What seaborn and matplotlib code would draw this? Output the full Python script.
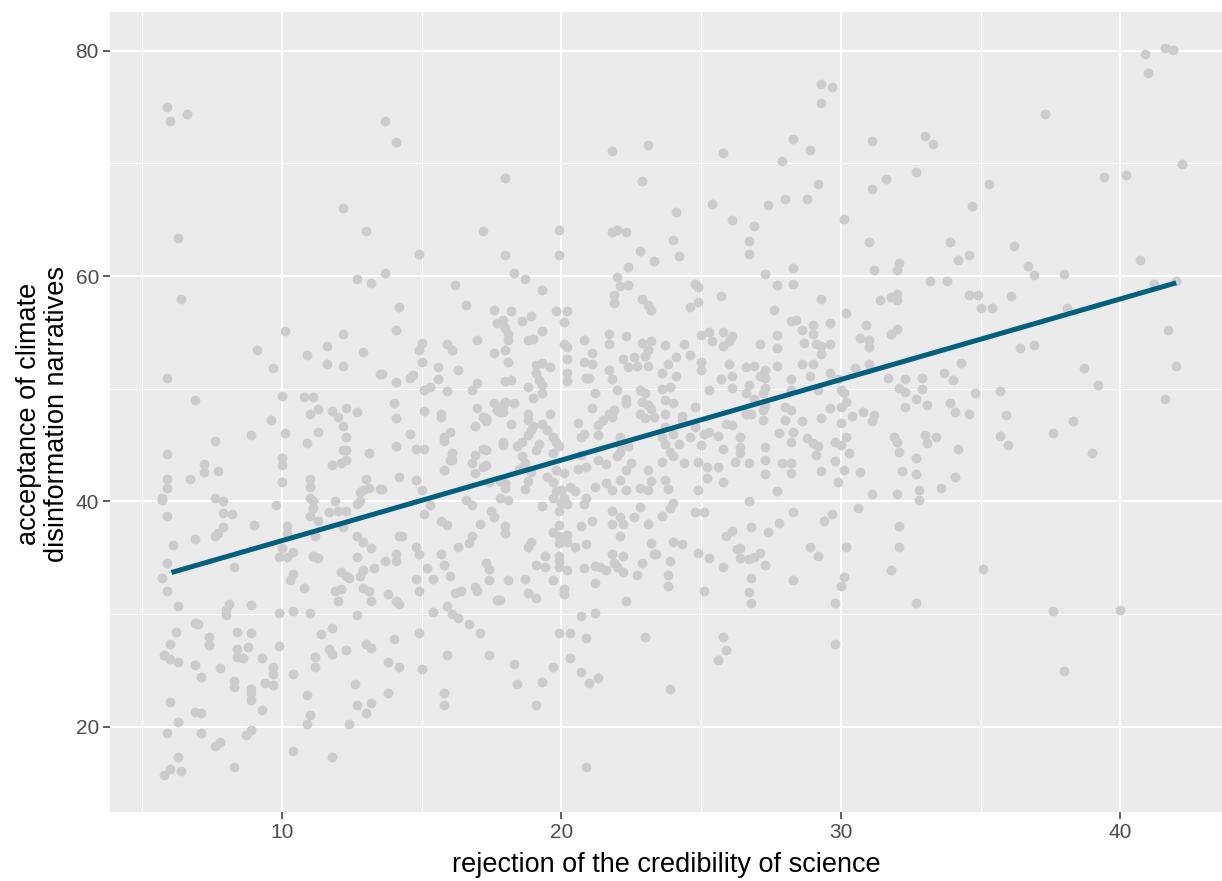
import matplotlib
matplotlib.use("Agg")
import matplotlib.pyplot as plt
from matplotlib.ticker import MultipleLocator
import pandas as pd
import seaborn as sns

# points, (rejection, acceptance)
top_points = [
    (5.9, 75.0), (6.0, 73.8), (6.6, 74.4), (6.3, 63.4), (12.2, 66.0), (13.0, 64.0), (13.7, 73.8), (14.1, 71.9),
    (18.0, 68.7), (17.2, 64.0), (14.9, 62.0), (18.0, 61.9), (19.9, 64.1), (19.9, 61.9), (21.8, 71.1), (23.1, 71.6),
    (22.9, 68.4), (21.8, 63.9), (22.0, 64.1), (22.3, 63.9), (22.8, 62.2), (23.3, 61.3), (22.4, 60.8), (18.3, 60.3),
    (13.7, 60.3), (29.3, 77.0), (29.7, 76.8), (29.3, 75.4), (28.3, 72.2), (28.9, 71.2), (25.8, 70.9), (27.9, 70.2),
    (31.1, 72.0), (33.0, 72.4), (33.3, 71.7), (32.7, 69.2), (31.6, 68.6), (31.1, 67.7), (29.2, 68.2), (28.0, 66.8),
    (28.8, 66.8), (27.4, 66.3), (25.4, 66.4), (24.1, 65.7), (26.1, 65.0), (26.9, 64.4), (30.1, 65.1), (24.0, 63.2),
    (24.2, 61.8), (26.7, 63.1), (26.7, 62.0), (31.0, 63.0), (28.3, 60.7), (32.1, 61.2), (31.2, 60.5), (32.0, 60.5),
    (27.3, 60.2), (40.9, 79.7), (41.6, 80.2), (41.9, 80.1), (41.0, 78.0), (37.3, 74.4), (42.2, 69.9), (40.2, 69.0),
    (39.4, 68.8), (35.3, 68.2), (34.7, 66.2), (33.9, 63.0), (36.2, 62.7), (34.6, 61.9), (34.2, 61.4), (36.7, 60.9),
    (40.7, 61.4), (38.0, 60.2), (36.9, 60.1),
]

band_left = [
    (12.7, 59.7), (13.2, 59.4), (6.4, 58.0), (10.1, 55.1), (12.2, 54.9), (9.1, 53.4), (10.9, 53.0), (11.6, 53.8),
    (12.9, 53.3), (11.6, 52.2), (12.2, 52.0), (9.7, 51.8), (13.5, 51.3), (5.9, 51.0), (10.0, 49.4), (6.9, 49.0),
    (10.8, 49.3), (11.1, 49.3), (11.3, 48.2), (11.0, 47.8), (11.8, 48.0), (12.3, 48.3), (12.0, 47.5), (12.7, 47.9),
    (12.2, 46.7), (9.6, 47.2), (10.1, 46.1), (8.9, 45.9), (11.3, 46.2), (12.3, 45.7), (10.9, 45.2), (7.6, 45.4),
    (5.9, 44.2), (10.0, 43.9), (10.0, 43.2), (12.2, 44.6), (12.3, 44.6), (13.1, 44.3), (12.3, 43.7), (11.8, 43.2),
    (12.1, 43.4), (7.2, 43.3), (7.2, 42.6), (7.7, 42.7), (6.7, 42.0), (5.9, 42.0), (5.9, 41.2), (10.0, 41.7),
    (11.0, 42.0), (11.0, 41.3), (13.0, 42.0), (13.1, 41.2), (13.5, 41.1), (12.8, 40.8), (12.9, 41.0), (11.0, 40.3),
    (11.1, 40.0), (11.9, 40.0), (12.7, 39.8), (12.8, 40.0), (5.7, 40.1), (5.7, 40.3), (7.6, 40.3), (7.9, 40.0),
    (9.8, 39.7), (11.1, 39.4), (11.7, 39.1), (12.0, 39.2), (12.3, 39.2), (7.9, 39.0), (8.2, 38.9), (5.9, 38.7),
    (11.0, 38.7), (11.3, 38.3), (12.2, 37.7), (9.0, 37.9), (7.9, 37.7), (7.7, 37.2), (7.6, 36.9), (10.2, 37.8),
    (10.2, 37.2), (11.2, 36.9), (6.9, 36.7), (12.7, 36.9), (12.9, 36.4), (6.1, 36.1), (10.0, 35.9),
]

band_mid_left = [
    (18.7, 59.7), (16.2, 59.2), (19.3, 58.8), (22.0, 59.9), (22.1, 59.1), (22.4, 59.2), (21.9, 58.3), (21.9, 57.6),
    (22.9, 58.0), (23.1, 57.4), (23.2, 57.0), (14.2, 57.3), (16.6, 57.4), (17.6, 57.0), (18.2, 56.9), (18.9, 56.5),
    (18.6, 56.0), (19.8, 56.9), (20.2, 56.9), (20.1, 55.9), (17.7, 55.8), (17.9, 56.1), (18.0, 55.4), (18.1, 54.9),
    (18.1, 54.3), (18.0, 53.4), (19.3, 55.1), (14.1, 55.2), (17.0, 54.3), (17.6, 53.2), (18.1, 52.4), (18.8, 54.3),
    (19.0, 54.4), (15.0, 54.1), (14.9, 53.4), (15.9, 54.0), (16.1, 53.4), (15.0, 52.4), (21.7, 54.9), (21.7, 54.0),
    (22.3, 54.7), (20.8, 54.3), (20.1, 54.0), (20.2, 53.7), (21.1, 53.2), (20.2, 52.6), (20.8, 52.4), (21.1, 52.2),
    (22.9, 54.1), (23.2, 54.2), (23.1, 53.4), (23.0, 52.9), (22.6, 52.8), (22.2, 52.6), (22.4, 51.9), (22.7, 52.0),
    (23.1, 52.0), (15.6, 51.9), (16.3, 51.7), (14.6, 51.0), (14.7, 51.2), (14.1, 50.6), (13.6, 51.3), (15.6, 50.9),
    (19.1, 52.1), (19.3, 52.3), (19.6, 51.9), (19.1, 51.4), (19.2, 50.8), (18.0, 50.7), (18.2, 50.8), (20.2, 51.4),
    (20.2, 50.7), (20.9, 51.0), (21.0, 51.0), (21.7, 51.7), (21.8, 50.9), (15.1, 49.9), (15.3, 50.2), (15.9, 49.8),
    (16.8, 49.9), (17.0, 50.5), (18.8, 50.2), (19.0, 49.2), (19.3, 49.6), (19.3, 50.3), (21.2, 49.6), (22.0, 49.9),
    (22.3, 49.1), (22.3, 48.7), (22.8, 49.9), (23.0, 49.6), (14.0, 48.7), (15.1, 48.0), (14.1, 47.4), (15.7, 47.8),
    (15.7, 47.5), (17.0, 48.3), (17.2, 47.5), (17.3, 47.1), (17.6, 48.7), (17.7, 48.1), (17.9, 48.5), (18.0, 48.8),
    (18.3, 48.7), (17.9, 47.9), (17.8, 47.9), (17.3, 47.4), (16.9, 46.7), (18.2, 46.9), (18.8, 47.8), (18.8, 47.2),
    (19.0, 46.7), (19.3, 46.9), (19.6, 47.8), (21.1, 48.3), (20.6, 47.0), (20.8, 46.0), (20.7, 45.7), (21.3, 46.8),
    (21.5, 47.2), (21.7, 47.8), (21.9, 48.1), (21.8, 47.5), (22.9, 48.8), (23.1, 48.6), (23.2, 48.2), (22.8, 47.8),
    (23.0, 47.4), (23.3, 47.5), (14.6, 46.0), (16.0, 46.2), (15.8, 45.7), (15.8, 45.4), (14.1, 44.9), (14.8, 44.7),
    (15.1, 44.7), (17.2, 44.7), (17.3, 44.6), (16.9, 44.1), (17.9, 45.3), (17.9, 45.0), (18.4, 44.9), (18.6, 45.3),
    (18.8, 45.9), (18.9, 46.3), (19.2, 45.1), (19.1, 44.6), (19.5, 46.3), (19.7, 45.7), (19.8, 45.3), (19.9, 44.9),
    (19.7, 44.3), (21.3, 45.9), (22.1, 45.7), (22.1, 45.1), (22.4, 44.9), (22.1, 44.4), (16.1, 44.3), (16.1, 43.7),
    (16.0, 43.7), (15.8, 42.8), (16.9, 42.5), (17.2, 43.1), (17.3, 43.2), (16.8, 43.4), (14.2, 42.2), (14.8, 41.9),
    (15.0, 41.0), (13.6, 41.1), (18.6, 44.0), (18.7, 43.4), (18.5, 42.9), (18.9, 42.6), (18.8, 41.8), (18.0, 41.6),
    (18.0, 41.2), (17.8, 41.8), (17.4, 41.7), (18.7, 41.1), (19.5, 42.2), (19.7, 41.7), (19.8, 42.8), (20.1, 42.5),
    (20.6, 42.9), (20.9, 43.1), (20.7, 44.1), (21.3, 43.7), (21.6, 43.3), (22.0, 44.0), (22.3, 42.8), (22.5, 43.4),
    (23.1, 42.8), (23.2, 41.8), (21.2, 41.3), (21.6, 41.6), (21.8, 41.0), (22.1, 41.9), (22.3, 41.0), (22.8, 41.2),
    (23.1, 41.0), (20.3, 41.3), (20.5, 40.9), (19.8, 40.9), (20.0, 41.0), (19.7, 40.3), (20.1, 40.3), (20.2, 39.8),
    (20.0, 39.9), (20.9, 40.3), (20.8, 39.8), (19.3, 39.6), (19.9, 39.2), (17.8, 40.3), (18.1, 40.1), (16.6, 40.1),
    (16.8, 39.7), (15.3, 39.7), (15.1, 38.9), (17.5, 39.2), (17.6, 38.6), (15.7, 38.3), (15.9, 37.9), (17.1, 38.0),
    (18.0, 37.8), (18.0, 37.2), (21.1, 38.3), (20.7, 37.8), (21.8, 39.2), (22.1, 38.6), (22.2, 38.0), (21.8, 38.0),
    (22.6, 38.6), (22.8, 39.5), (23.1, 38.0), (19.9, 37.9), (19.7, 37.3), (19.9, 36.9), (20.2, 37.0), (14.3, 36.9),
    (14.2, 36.9), (16.8, 36.9), (16.7, 36.3), (14.8, 36.0), (16.3, 36.0), (18.9, 36.4), (18.8, 36.0), (20.5, 36.0),
    (20.9, 36.2), (22.1, 36.9), (23.2, 36.3),
]

band_mid_right = [
    (27.7, 59.2), (28.3, 59.3), (24.8, 59.3), (24.9, 59.0), (33.2, 59.6), (25.7, 58.2), (24.9, 57.7), (24.6, 57.3),
    (29.3, 58.0), (31.4, 57.9), (31.8, 58.1), (32.0, 58.4), (32.0, 57.9), (27.6, 57.0), (30.2, 56.7), (28.2, 56.0),
    (28.4, 56.1), (29.0, 55.7), (29.6, 55.8), (30.9, 55.7), (28.6, 55.2), (29.0, 54.9), (27.7, 54.8), (31.8, 54.9),
    (32.0, 55.3), (25.0, 54.8), (25.3, 55.0), (25.4, 54.2), (25.8, 55.0), (26.1, 54.7), (25.8, 53.8), (26.0, 54.2),
    (27.1, 54.0), (27.7, 53.6), (28.7, 54.1), (29.1, 54.0), (29.3, 53.8), (29.6, 54.0), (29.3, 53.1), (30.7, 54.5),
    (31.0, 54.3), (31.0, 53.7), (24.4, 54.0), (23.7, 53.9), (24.6, 53.0), (24.1, 52.8), (23.8, 52.2), (25.0, 52.4),
    (25.0, 51.7), (26.0, 52.2), (26.6, 51.9), (26.9, 52.0), (27.3, 51.7), (27.7, 52.0), (28.6, 52.2), (29.0, 52.2),
    (30.5, 51.8), (31.0, 52.2), (23.6, 51.4), (24.1, 51.1), (23.9, 50.2), (23.6, 50.0), (25.7, 50.9), (26.1, 51.1),
    (26.1, 50.1), (26.7, 50.3), (26.6, 49.6), (27.1, 51.1), (27.3, 51.0), (27.3, 50.1), (27.2, 49.6), (28.2, 50.9),
    (28.9, 51.1), (29.6, 51.4), (29.9, 50.9), (31.7, 51.0), (32.3, 50.9), (32.9, 51.0), (32.1, 50.1), (32.3, 49.7),
    (32.9, 50.0), (25.3, 49.9), (28.2, 49.9), (29.2, 49.9), (30.0, 49.9), (30.1, 49.6), (23.7, 49.0), (24.0, 48.7),
    (24.8, 48.4), (26.9, 49.1), (27.3, 48.5), (28.0, 48.4), (28.2, 48.1), (30.2, 48.8), (30.0, 48.4), (29.6, 48.3),
    (32.7, 49.1), (33.1, 48.6), (32.3, 48.4), (23.7, 47.8), (24.3, 47.6), (24.3, 47.1), (26.6, 47.8), (26.8, 47.8),
    (27.2, 48.1), (27.2, 47.2), (28.0, 47.2), (28.6, 47.1), (29.3, 47.4), (30.4, 47.6), (30.8, 47.9), (31.2, 47.7),
    (31.1, 47.1), (23.7, 46.6), (24.8, 46.6), (25.9, 46.9), (26.1, 46.8), (30.0, 47.0), (24.0, 46.0), (23.6, 45.7),
    (25.1, 46.0), (25.3, 46.2), (25.0, 45.0), (24.6, 45.7), (25.6, 45.8), (26.4, 45.7), (27.8, 46.1), (28.3, 46.2),
    (28.2, 45.3), (28.8, 45.6), (29.0, 45.2), (29.2, 44.9), (29.8, 45.3), (30.0, 45.0), (30.2, 45.7), (31.9, 45.7),
    (32.0, 45.3), (33.0, 45.9), (33.1, 45.2), (23.7, 45.1), (23.9, 44.4), (24.2, 45.1), (24.0, 44.0), (23.6, 43.5),
    (25.8, 44.7), (26.4, 44.8), (26.4, 44.3), (27.3, 44.8), (29.1, 44.1), (30.3, 44.3), (32.1, 44.4), (32.7, 43.9),
    (24.4, 43.4), (24.9, 43.5), (25.2, 43.1), (25.6, 43.1), (26.2, 43.5), (26.7, 43.4), (27.3, 43.7), (27.9, 43.4),
    (28.2, 43.4), (28.2, 42.5), (27.3, 42.4), (29.3, 42.7), (29.8, 43.6), (30.1, 42.8), (30.7, 42.6), (32.2, 42.7),
    (32.7, 42.4), (23.7, 41.9), (25.2, 42.1), (25.8, 41.7), (29.9, 41.7), (23.8, 41.1), (24.9, 41.0), (27.7, 40.9),
    (31.1, 40.7), (32.0, 40.7), (32.8, 41.0), (32.8, 40.1), (26.7, 40.0), (24.0, 39.9), (23.9, 39.4), (23.6, 38.7),
    (24.8, 39.1), (25.1, 39.1), (28.3, 39.1), (30.6, 39.4), (29.7, 38.9), (29.4, 38.3), (27.8, 38.1), (32.1, 37.8),
    (26.1, 37.4), (25.9, 36.9), (26.8, 37.7), (27.4, 37.3), (24.0, 36.4), (24.3, 36.2), (26.4, 35.9), (28.9, 36.0),
    (30.2, 36.0), (32.1, 36.0),
]

band_right = [
    (33.8, 59.6), (34.6, 58.3), (34.9, 58.3), (35.0, 57.2), (35.4, 57.2), (36.1, 58.2), (38.1, 57.2), (41.2, 59.3),
    (42.0, 59.6), (36.4, 53.6), (36.9, 53.9), (34.3, 52.3), (33.7, 51.4), (34.0, 50.8), (38.7, 51.8), (39.2, 50.3),
    (41.7, 55.2), (42.0, 52.0), (34.8, 49.6), (35.7, 49.8), (33.9, 48.7), (34.1, 47.9), (34.6, 47.8), (35.9, 47.7),
    (41.6, 49.1), (38.3, 47.1), (37.6, 46.1), (33.4, 45.7), (35.7, 45.8), (36.0, 45.0), (34.2, 44.7), (39.0, 44.3),
    (34.1, 42.2), (33.6, 41.2),
]

lower_left = [
    (5.9, 34.5), (5.7, 33.2), (5.9, 32.1), (6.3, 30.7), (8.3, 34.2), (9.9, 35.1), (10.2, 35.1), (10.4, 35.5),
    (10.3, 33.0), (10.4, 33.6), (10.8, 32.3), (9.9, 30.1), (10.4, 30.3), (11.0, 30.1), (11.1, 35.2), (11.3, 35.0),
    (11.9, 32.1), (12.1, 32.2), (12.0, 31.2), (12.1, 33.7), (12.3, 33.4), (12.4, 33.2), (12.8, 33.4), (12.9, 33.9),
    (12.7, 35.1), (13.2, 35.9), (13.3, 34.1), (12.9, 32.3), (13.1, 32.1), (13.2, 31.2), (12.7, 29.9), (13.7, 34.7),
    (13.8, 31.8), (14.1, 35.3), (14.1, 34.7), (14.1, 31.2), (14.2, 30.9), (14.9, 35.3), (14.8, 33.1), (14.9, 32.1),
    (15.2, 34.1), (15.4, 33.1), (15.4, 30.2), (15.7, 35.3), (15.8, 34.4), (16.0, 33.4), (15.9, 30.7), (16.1, 30.0),
    (16.3, 29.7), (16.2, 31.9), (16.4, 32.1), (16.9, 32.4), (17.0, 32.1), (17.3, 34.5), (17.4, 34.0), (17.4, 33.0),
    (17.7, 31.3), (16.7, 29.1), (17.1, 28.3), (17.4, 26.4), (14.9, 28.3), (15.0, 25.1), (15.9, 26.4), (15.8, 23.0),
    (15.8, 21.9), (14.0, 27.8), (14.2, 25.3), (13.8, 25.8), (13.8, 23.0), (13.2, 22.1), (13.0, 21.2), (12.7, 21.9),
    (12.6, 23.8), (12.4, 20.3), (11.8, 28.8), (11.4, 28.2), (11.7, 26.9), (11.8, 26.5), (12.3, 26.8), (13.0, 27.4),
    (13.2, 27.0), (11.2, 26.2), (11.2, 25.3), (10.9, 22.8), (11.0, 21.1), (10.9, 20.3), (10.4, 24.7), (10.4, 17.9),
    (11.8, 17.3), (9.9, 27.2), (9.7, 25.3), (9.7, 24.7), (9.7, 23.7), (9.4, 23.9), (9.3, 26.1), (9.3, 21.5),
    (8.9, 28.3), (8.8, 27.1), (8.9, 30.8), (8.4, 28.4), (8.4, 26.9), (8.4, 26.2), (8.6, 26.1), (8.3, 24.1),
    (8.3, 23.5), (8.9, 23.4), (8.9, 23.0), (8.9, 22.4), (8.9, 19.7), (8.7, 19.3), (8.1, 30.9), (8.0, 29.9),
    (8.0, 30.4), (7.8, 25.2), (7.8, 18.7), (7.6, 18.3), (8.3, 16.4), (6.9, 29.2), (7.0, 29.1), (7.4, 28.0),
    (7.4, 27.3), (6.9, 25.5), (7.1, 24.4), (6.9, 21.3), (7.1, 21.2), (7.1, 19.5), (6.2, 28.4), (6.0, 27.4),
    (5.8, 26.4), (6.0, 26.0), (6.3, 25.8), (6.0, 22.2), (6.3, 20.4), (5.9, 19.5), (6.3, 17.3), (6.0, 16.3),
    (5.8, 15.7), (6.4, 16.1),
]

lower_right = [
    (19.9, 36.3), (20.2, 36.4), (19.4, 35.2), (19.9, 35.2), (19.9, 34.7), (19.1, 34.4), (19.4, 34.2), (19.9, 34.2),
    (20.2, 33.9), (18.1, 33.0), (18.7, 33.1), (19.7, 33.0), (18.8, 31.9), (19.1, 31.4), (20.1, 32.2), (20.1, 31.8),
    (17.8, 31.3), (20.8, 34.1), (21.2, 34.3), (21.4, 34.2), (21.6, 33.9), (21.2, 32.8), (21.8, 35.3), (21.9, 34.5),
    (22.0, 34.2), (22.2, 33.7), (22.2, 35.2), (22.3, 31.2), (22.7, 33.5), (22.9, 34.5), (23.3, 35.3), (23.4, 35.3),
    (23.9, 34.7), (23.8, 33.5), (23.8, 32.5), (24.9, 35.4), (25.3, 35.0), (25.8, 34.2), (25.1, 32.1), (26.3, 35.8),
    (26.4, 35.0), (26.7, 34.9), (26.9, 35.1), (27.1, 35.4), (27.3, 34.4), (26.8, 33.2), (26.7, 32.0), (26.8, 31.0),
    (28.3, 33.0), (29.2, 35.2), (30.1, 33.3), (30.0, 32.5), (29.8, 31.0), (31.8, 33.9), (20.7, 29.8), (21.2, 30.1),
    (19.9, 28.3), (20.3, 28.3), (20.9, 27.9), (23.0, 28.0), (25.8, 28.0), (25.9, 26.8), (25.6, 25.9), (29.8, 27.4),
    (18.3, 25.6), (18.4, 23.8), (19.3, 24.0), (19.7, 25.3), (20.3, 26.1), (20.7, 24.9), (21.0, 23.9), (21.3, 24.3),
    (19.1, 21.9), (23.9, 23.4), (20.9, 16.4), (35.1, 34.0), (32.7, 31.0), (37.6, 30.3), (40.0, 30.4), (38.0, 25.0),
]

# fitted lm line, ends
fit_x = [6.05, 42.0]
fit_y = [33.7, 59.4]

x_ticks = [10, 20, 30, 40]
y_ticks = [20, 40, 60, 80]

all_points = top_points + band_left + band_mid_left + band_mid_right + band_right + lower_left + lower_right
df = pd.DataFrame(all_points, columns=["rejection", "acceptance"])

sns.set_theme(style="darkgrid", rc={
    "axes.facecolor": "#EBEBEB",
    "grid.color": "white",
    "figure.facecolor": "white",
})
plt.rcParams["font.family"] = ["Liberation Sans", "DejaVu Sans"]

fig = plt.figure(figsize=(12.22, 8.81), dpi=100)
ax = fig.add_axes([110 / 1222, 69 / 881, 1112 / 1222, 800 / 881])

sns.scatterplot(data=df, x="rejection", y="acceptance", color="#CCCCCC",
                s=50, linewidth=0, alpha=1, ax=ax, zorder=3)
sns.lineplot(x=fit_x, y=fit_y, color="#00607F", linewidth=3.6, ax=ax,
             zorder=4, solid_capstyle="butt")

ax.set_xlim(3.85, 43.64)
ax.set_ylim(12.45, 83.43)
ax.set_xticks(x_ticks)
ax.set_yticks(y_ticks)
ax.xaxis.set_minor_locator(MultipleLocator(5))
ax.yaxis.set_minor_locator(MultipleLocator(10))
ax.grid(which="major", color="white", linewidth=1.5)
ax.grid(which="minor", color="white", linewidth=0.75)
ax.set_axisbelow(True)
for s in ax.spines.values():
    s.set_visible(False)

ax.tick_params(which="major", length=5, width=1.1, color="#333333",
               labelsize=15, labelcolor="#4D4D4D", pad=3,
               bottom=True, left=True)
ax.tick_params(which="minor", length=0)

ax.set_xlabel("rejection of the credibility of science", fontsize=19.5, color="black", labelpad=7)
ax.set_ylabel("")
fig.text(43 / 1222, 1 - 414 / 881, "acceptance of climate\ndisinformation narratives",
         rotation=90, ha="center", va="center", multialignment="center",
         fontsize=19.5, color="black", linespacing=1.05)

fig.savefig("out.png", dpi=100)
